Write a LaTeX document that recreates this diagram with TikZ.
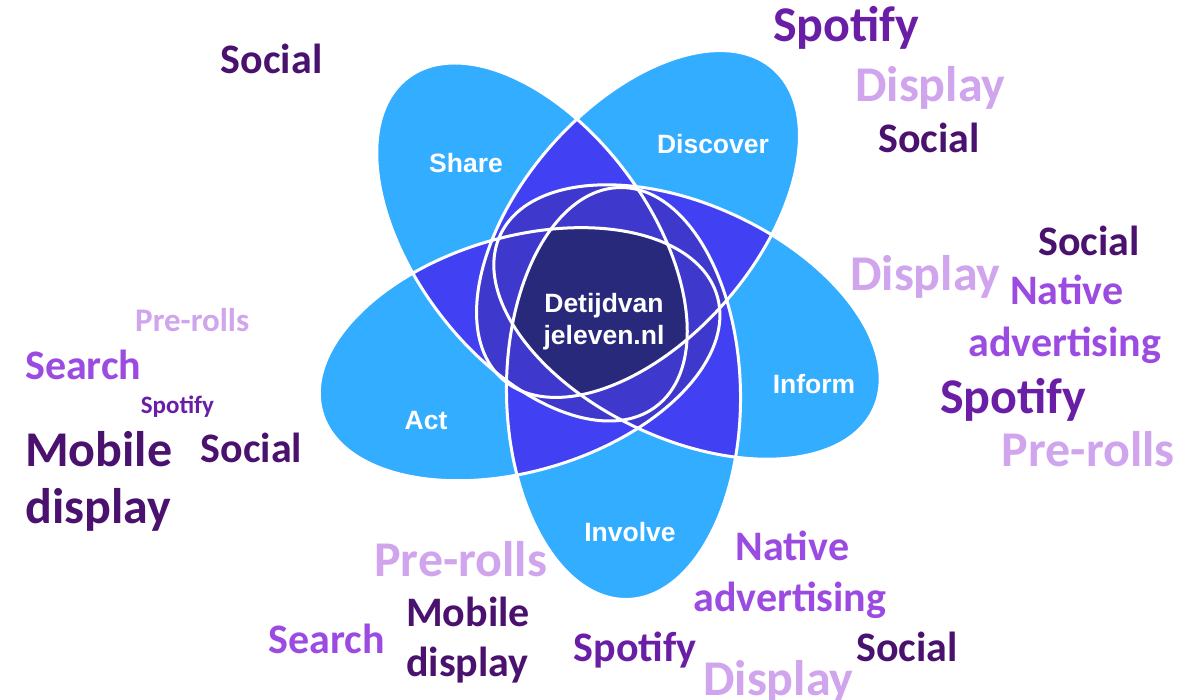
\documentclass[tikz,border=0pt]{standalone}
\usepackage{fontspec}
\newfontfamily\carl{Carlito}
\newfontfamily\arialb{Liberation Sans}[BoldFont={Liberation Sans Bold}]
\definecolor{lb}{HTML}{33ADFF}
\definecolor{ctwo}{HTML}{4141F3}
\definecolor{cthree}{HTML}{3F38CD}
\definecolor{cfive}{HTML}{29297B}
\definecolor{pdark}{HTML}{4A126E}
\definecolor{pspot}{HTML}{6A1EA6}
\definecolor{pmed}{HTML}{9B4BE2}
\definecolor{plight}{HTML}{D0A5EE}
% the five ellipses (pixel coordinates, y downwards)
\newcommand\ElS[1]{\path[#1,rotate around={-53:(532,242)}] (532,242) ellipse [x radius=206pt, y radius=117pt];}
\newcommand\ElD[1]{\path[#1,rotate around={-131:(638,224)}] (638,224) ellipse [x radius=206pt, y radius=117pt];}
\newcommand\ElF[1]{\path[#1,rotate around={-25:(687,322)}] (687,322) ellipse [x radius=206pt, y radius=117pt];}
\newcommand\ElV[1]{\path[#1,rotate around={-89:(623.5,393.5)}] (623.5,393.5) ellipse [x radius=206pt, y radius=117pt];}
\newcommand\ElA[1]{\path[#1,rotate around={-163.5:(519.6,354.2)}] (519.6,354.2) ellipse [x radius=206pt, y radius=117pt];}
\newcommand\region[2]{\begin{scope}#1\fill[#2] (0,0) rectangle (1192,700);\end{scope}}
\tikzset{
  wbig/.style={anchor=base west, inner sep=0pt, font=\carl\bfseries\fontsize{50}{50}\selectfont},
  wmed/.style={anchor=base west, inner sep=0pt, font=\carl\bfseries\fontsize{42}{42}\selectfont},
  elabel/.style={anchor=base, inner sep=0pt, text=white, font=\arialb\bfseries\fontsize{26.5}{32.3}\selectfont},
}
\begin{document}
\begin{tikzpicture}[x=1pt,y=-1pt]
\useasboundingbox (0,0) rectangle (1192,700);
\fill[white] (0,0) rectangle (1192,700);
% single sets
\ElS{fill=lb}\ElD{fill=lb}\ElF{fill=lb}\ElV{fill=lb}\ElA{fill=lb}
% pairs
\region{\ElS{clip}\ElD{clip}}{ctwo}
\region{\ElS{clip}\ElF{clip}}{ctwo}
\region{\ElS{clip}\ElV{clip}}{ctwo}
\region{\ElS{clip}\ElA{clip}}{ctwo}
\region{\ElD{clip}\ElF{clip}}{ctwo}
\region{\ElD{clip}\ElV{clip}}{ctwo}
\region{\ElD{clip}\ElA{clip}}{ctwo}
\region{\ElF{clip}\ElV{clip}}{ctwo}
\region{\ElF{clip}\ElA{clip}}{ctwo}
\region{\ElV{clip}\ElA{clip}}{ctwo}
% triples
\region{\ElS{clip}\ElD{clip}\ElF{clip}}{cthree}
\region{\ElS{clip}\ElD{clip}\ElV{clip}}{cthree}
\region{\ElS{clip}\ElD{clip}\ElA{clip}}{cthree}
\region{\ElS{clip}\ElF{clip}\ElV{clip}}{cthree}
\region{\ElS{clip}\ElF{clip}\ElA{clip}}{cthree}
\region{\ElS{clip}\ElV{clip}\ElA{clip}}{cthree}
\region{\ElD{clip}\ElF{clip}\ElV{clip}}{cthree}
\region{\ElD{clip}\ElF{clip}\ElA{clip}}{cthree}
\region{\ElD{clip}\ElV{clip}\ElA{clip}}{cthree}
\region{\ElF{clip}\ElV{clip}\ElA{clip}}{cthree}
% all five
\region{\ElS{clip}\ElD{clip}\ElF{clip}\ElV{clip}\ElA{clip}}{cfive}
% outlines
\ElS{draw=white,line width=3pt}\ElD{draw=white,line width=3pt}\ElF{draw=white,line width=3pt}\ElV{draw=white,line width=3pt}\ElA{draw=white,line width=3pt}
% ellipse labels
\node[elabel] (lshare) at (466,173) {Share};
\node[elabel] (ldisc) at (713,153.3) {Discover};
\node[elabel] (linform) at (814,393.3) {Inform};
\node[elabel] (linvolve) at (630,541.7) {Involve};
\node[elabel] (lact) at (426,430) {Act};
\node[elabel, anchor=center, align=center] (lcenter) at (604,322) {Detijdvan\\jeleven.nl};
% word cloud
\node[wmed, text=pdark] (w1) at (220.7,73.3) {Social};
\node[wbig, text=pspot] (w2) at (773,42) {Spotify};
\node[wbig, text=plight] (w3) at (855,101.7) {Display};
\node[wmed, text=pdark] (w4) at (878.3,152.7) {Social};
\node[wmed, text=pdark] (w5) at (1038.3,256) {Social};
\node[wbig, text=plight] (w6) at (850,291) {Display};
\node[wmed, text=pmed] (w7) at (1010,305) {Native};
\node[wmed, text=pmed] (w8) at (968.3,356.7) {advertising};
\node[wbig, text=pspot] (w9) at (940,413.3) {Spotify};
\node[wbig, text=plight] (w10) at (1001.7,466.7) {Pre-rolls};
\node[wmed, text=plight, font=\carl\bfseries\fontsize{33}{33}\selectfont] (w11) at (135,331.7) {Pre-rolls};
\node[wmed, text=pmed] (w12) at (25,380) {Search};
\node[wmed, text=pspot, font=\carl\bfseries\fontsize{25}{25}\selectfont] (w13) at (140.7,413.3) {Spotify};
\node[wbig, text=pdark] (w14) at (25,466.7) {Mobile};
\node[wbig, text=pdark] (w15) at (25,523.3) {display};
\node[wmed, text=pdark] (w16) at (200.7,462.7) {Social};
\node[wbig, text=plight] (w17) at (374,576.7) {Pre-rolls};
\node[wmed, text=pmed] (w18) at (268.7,653.3) {Search};
\node[wmed, text=pdark] (w19) at (406,626.7) {Mobile};
\node[wmed, text=pdark] (w20) at (406,676.7) {display};
\node[wmed, text=pmed] (w21) at (735.7,560.7) {Native};
\node[wmed, text=pmed] (w22) at (693.3,611.7) {advertising};
\node[wmed, text=pspot] (w23) at (573.7,661.7) {Spotify};
\node[wbig, text=plight] (w24) at (703,695) {Display};
\node[wmed, text=pdark] (w25) at (856,661.7) {Social};
\end{tikzpicture}
\end{document}
